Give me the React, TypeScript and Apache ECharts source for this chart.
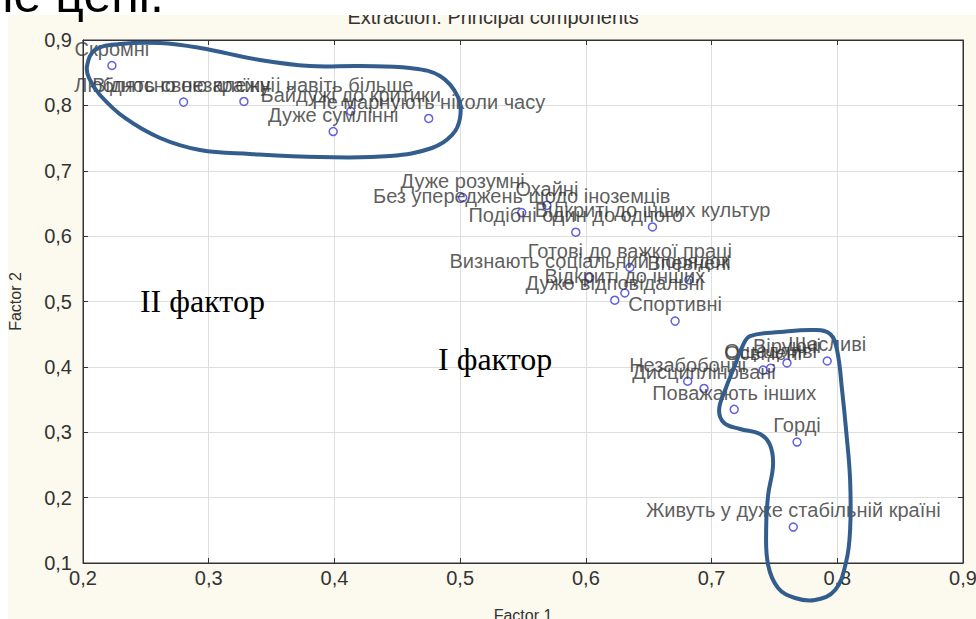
import React, { useEffect, useRef } from "react";
import * as echarts from "echarts";

const labels = [
  "Скромні",
  "Відносно незалежні",
  "Люблять свою країну і навіть більше",
  "Байдужі до критики",
  "Дуже сумлінні",
  "Не марнують ніколи часу",
  "Дуже розумні",
  "Охайні",
  "Без упереджень щодо іноземців",
  "Подібні один до одного",
  "Відкриті до інших культур",
  "Готові до важкої праці",
  "Визнають соціальний порядок",
  "Впевнені",
  "Дуже відповідальні",
  "Відкриті до інших",
  "Спортивні",
  "Віруючі",
  "Щасливі",
  "Освічені",
  "Ощадливі",
  "Незабобонні",
  "Дисципліновані",
  "Поважають інших",
  "Горді",
  "Живуть у дуже стабільній країні",
];

const factor1 = [
  0.223, 0.28, 0.328, 0.413, 0.399, 0.475, 0.502, 0.569, 0.549, 0.592, 0.653,
  0.635, 0.603, 0.682, 0.623, 0.631, 0.671, 0.76, 0.792, 0.741, 0.747, 0.681,
  0.694, 0.718, 0.768, 0.765,
];

const factor2 = [
  0.861, 0.805, 0.806, 0.791, 0.76, 0.78, 0.659, 0.647, 0.636, 0.606, 0.614,
  0.552, 0.537, 0.533, 0.502, 0.513, 0.47, 0.406, 0.409, 0.395, 0.398, 0.378,
  0.367, 0.335, 0.285, 0.155,
];

// hand-drawn outlines, in data units
const loopTopX = [
  0.2032, 0.2095, 0.2294, 0.2613, 0.2931, 0.3408, 0.3806, 0.4204, 0.4601,
  0.484, 0.4983, 0.4999, 0.4936, 0.4776, 0.4442, 0.3885, 0.3329, 0.2931,
  0.2613, 0.2334, 0.2135, 0.2048,
];
const loopTopY = [
  0.8602, 0.8847, 0.8939, 0.8954, 0.8878, 0.8694, 0.8602, 0.8602, 0.8572,
  0.8449, 0.8128, 0.7807, 0.7547, 0.7348, 0.7226, 0.721, 0.7256, 0.7317,
  0.7501, 0.7807, 0.8159, 0.8419,
];
const loopRightX = [
  0.7306, 0.7545, 0.7823, 0.7943, 0.7998, 0.8038, 0.807, 0.8102, 0.8102,
  0.807, 0.7983, 0.7823, 0.7664, 0.7529, 0.745, 0.7434, 0.745, 0.7489, 0.7465,
  0.7386, 0.7227, 0.71, 0.706, 0.7108, 0.7187, 0.7251,
];
const loopRightY = [
  0.4472, 0.4533, 0.4564, 0.4503, 0.4258, 0.3646, 0.3034, 0.227, 0.1505,
  0.1015, 0.0587, 0.0434, 0.0465, 0.0618, 0.0969, 0.1505, 0.204, 0.2499,
  0.2805, 0.2973, 0.305, 0.3142, 0.334, 0.3646, 0.4029, 0.4335,
];

const factorNotes = ["II фактор", "I фактор"];
const factorNoteX = [0.2453, 0.4824];
const factorNoteY = [0.5008, 0.412];

const SANS = '"Liberation Sans", Arial, sans-serif';
const SERIF = '"Liberation Serif", "Times New Roman", serif';

export default function App() {
  const ref = useRef<HTMLDivElement>(null);
  useEffect(() => {
    const chart = echarts.init(ref.current!, null, {
      renderer: "svg",
      width: 976,
      height: 619,
    });
    const fmt = (v: number) => v.toFixed(1).replace(".", ",");
    const data = labels.map((n, i) => ({ name: n, value: [factor1[i], factor2[i]] }));
    const tickStyle = { inside: true, length: 5, lineStyle: { color: "#333" } };
    const lineStyle = { show: true, onZero: false, lineStyle: { color: "#333", width: 1 } };
    chart.setOption({
      animation: false,
      backgroundColor: "#fcf9ee",
      grid: {
        left: 83,
        top: 40,
        width: 880,
        height: 523,
        containLabel: false,
        outerBoundsMode: "none",
        show: true,
        backgroundColor: "#ffffff",
        borderColor: "#333",
        borderWidth: 1,
      },
      xAxis: [
        {
          type: "value",
          min: 0.2,
          max: 0.9,
          interval: 0.1,
          position: "bottom",
          name: "Factor 1",
          nameLocation: "middle",
          nameGap: 44,
          nameTextStyle: { fontSize: 16, color: "#333", fontFamily: SANS },
          axisLine: lineStyle,
          axisTick: tickStyle,
          axisLabel: { formatter: fmt, fontSize: 20, color: "#333", margin: 5, fontFamily: SANS },
          splitLine: { show: true, lineStyle: { color: "#dedede" } },
        },
        {
          type: "value",
          min: 0.2,
          max: 0.9,
          interval: 0.1,
          position: "top",
          axisLine: lineStyle,
          axisTick: tickStyle,
          axisLabel: { show: false },
          splitLine: { show: false },
        },
      ],
      yAxis: [
        {
          type: "value",
          min: 0.1,
          max: 0.9,
          interval: 0.1,
          position: "left",
          name: "Factor 2",
          nameLocation: "middle",
          nameGap: 60,
          nameTextStyle: { fontSize: 16, color: "#333", fontFamily: SANS },
          axisLine: lineStyle,
          axisTick: tickStyle,
          axisLabel: { formatter: fmt, fontSize: 20, color: "#333", margin: 11, fontFamily: SANS },
          splitLine: { show: true, lineStyle: { color: "#dedede" } },
        },
        {
          type: "value",
          min: 0.1,
          max: 0.9,
          interval: 0.1,
          position: "right",
          axisLine: lineStyle,
          axisTick: tickStyle,
          axisLabel: { show: false },
          splitLine: { show: false },
        },
      ],
      series: [
        {
          type: "scatter",
          xAxisIndex: 0,
          yAxisIndex: 0,
          data,
          symbol: "circle",
          symbolSize: 8,
          itemStyle: { color: "#ffffff", borderColor: "#3b3bd6", borderWidth: 1.5 },
          label: {
            show: true,
            position: "top",
            distance: 2,
            formatter: "{b}",
            fontSize: 20,
            color: "#333",
            fontFamily: SANS,
          },
          emphasis: { disabled: true },
        },
      ],
    });

    const toPts = (xs: number[], ys: number[]) =>
      xs.map((x, i) => chart.convertToPixel({ seriesIndex: 0 }, [x, ys[i]]) as number[]);
    const notePx = factorNotes.map((_, i) =>
      chart.convertToPixel({ seriesIndex: 0 }, [factorNoteX[i], factorNoteY[i]]) as number[]
    );

    chart.setOption({
      graphic: [
        {
          type: "text",
          z: 10,
          x: 493,
          y: 17,
          style: {
            text: "Extraction: Principal components",
            font: `20px ${SANS}`,
            fill: "#333",
            align: "center",
            verticalAlign: "middle",
          },
        },
        { type: "rect", z: 20, shape: { x: 0, y: 0, width: 976, height: 15 }, style: { fill: "#ffffff" } },
        { type: "rect", z: 20, shape: { x: 0, y: 0, width: 8, height: 619 }, style: { fill: "#ffffff" } },
        {
          type: "text",
          z: 30,
          x: -14,
          y: -5,
          style: {
            text: "не цені.",
            font: `50px ${SANS}`,
            fill: "#000",
            align: "left",
            verticalAlign: "middle",
          },
        },
        {
          type: "polygon",
          z: 50,
          shape: { points: toPts(loopTopX, loopTopY), smooth: 0.4 },
          style: { fill: "none", stroke: "#335d8c", lineWidth: 4 },
        },
        {
          type: "polygon",
          z: 50,
          shape: { points: toPts(loopRightX, loopRightY), smooth: 0.4 },
          style: { fill: "none", stroke: "#335d8c", lineWidth: 4 },
        },
        ...factorNotes.map((t, i) => ({
          type: "text",
          z: 40,
          x: notePx[i][0],
          y: notePx[i][1],
          style: {
            text: t,
            font: `32px ${SERIF}`,
            fill: "#000",
            align: "left",
            verticalAlign: "middle",
          },
        })),
      ],
    });
    return () => chart.dispose();
  }, []);
  return (
    <div
      ref={ref}
      style={{ position: "fixed", left: 0, top: 0, width: 976, height: 619 }}
    />
  );
}
